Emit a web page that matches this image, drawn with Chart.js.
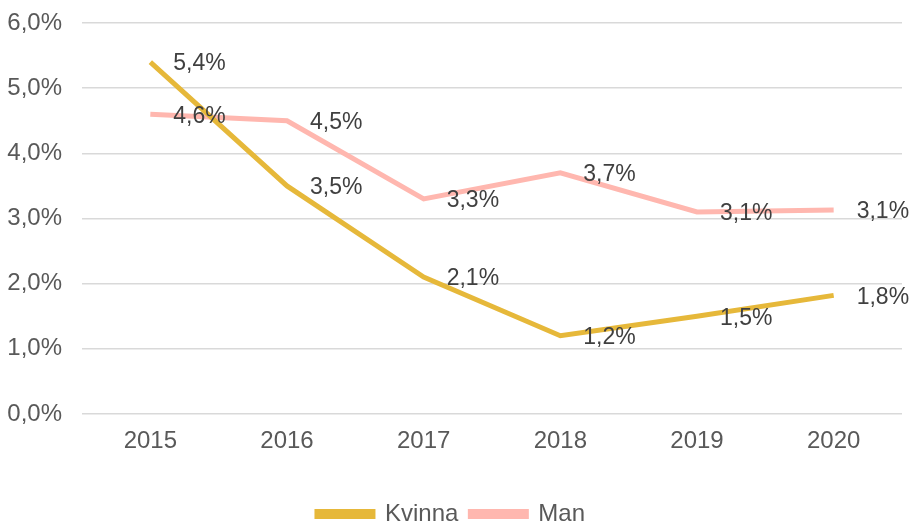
<!DOCTYPE html>
<html>
<head>
<meta charset="utf-8">
<script src="https://cdn.jsdelivr.net/npm/chart.js@4"></script>
<style>
	html, body { margin: 0; padding: 0; background: #fff; }
	#wrap { width: 914px; height: 525px; }
</style>
</head>
<body>
<div id="wrap"><canvas id="myChart" width="914" height="525"></canvas></div>
<script>
var years = ["2015", "2016", "2017", "2018", "2019", "2020"]
var kvinna = [5.4, 3.5, 2.1, 1.2, 1.5, 1.82]
var man = [4.6, 4.5, 3.3, 3.7, 3.1, 3.13]
var yTicks = [0, 1, 2, 3, 4, 5, 6]

var fontFam = "'Liberation Sans', Arial, sans-serif"

function pct(v) {
	return v.toFixed(1).replace(".", ",") + "%"
}

// labels to the right of each point, like the original
var pointLabels = {
	id: "pointLabels",
	afterDatasetsDraw: function (chart) {
		var ctx = chart.ctx
		ctx.save()
		ctx.font = "23px " + fontFam
		ctx.fillStyle = "#404040"
		ctx.textAlign = "left"
		ctx.textBaseline = "middle"
		chart.data.datasets.forEach(function (ds, i) {
			chart.getDatasetMeta(i).data.forEach(function (pt, j) {
				ctx.fillText(pct(ds.data[j]), pt.x + 23, pt.y + 2)
			})
		})
		ctx.restore()
	},
}

var ctx = document.getElementById("myChart").getContext("2d")
var myChart = new Chart(ctx, {
	type: "line",
	data: {
		labels: years,
		datasets: [
			{
				label: "Kvinna",
				data: kvinna,
				borderColor: "#E6B83A",
				backgroundColor: "#E6B83A",
				borderWidth: 5,
				pointRadius: 0,
				tension: 0,
			},
			{
				label: "Man",
				data: man,
				borderColor: "#FFB7AF",
				backgroundColor: "#FFB7AF",
				borderWidth: 5,
				pointRadius: 0,
				tension: 0,
			},
		],
	},
	options: {
		responsive: false,
		animation: false,
		layout: {padding: {top: 23, right: 12, left: 0, bottom: -11}},
		scales: {
			x: {
				offset: true,
				grid: {display: false},
				border: {display: false},
				ticks: {
					color: "#595959",
					font: {size: 24, family: fontFam},
					padding: 5,
				},
				afterFit: function (scale) {
					scale.height = 76
				},
			},
			y: {
				min: 0,
				max: 6,
				afterBuildTicks: function (scale) {
					scale.ticks = yTicks.map(function (v) { return {value: v} })
				},
				afterFit: function (scale) {
					scale.width = 82
					scale.paddingTop = 0
					scale.paddingBottom = 0
				},
				grid: {color: "#D9D9D9", lineWidth: 1.5, drawTicks: false},
				border: {display: false},
				ticks: {
					color: "#595959",
					font: {size: 24, family: fontFam},
					padding: 20,
					callback: function (v) { return pct(v) },
				},
			},
		},
		plugins: {
			legend: {
				position: "bottom",
				labels: {
					color: "#595959",
					font: {size: 24, family: fontFam},
					boxWidth: 56,
					boxHeight: 5,
					padding: 12,
				},
			},
			tooltip: {enabled: false},
		},
	},
	plugins: [pointLabels],
})
</script>
</body>
</html>
